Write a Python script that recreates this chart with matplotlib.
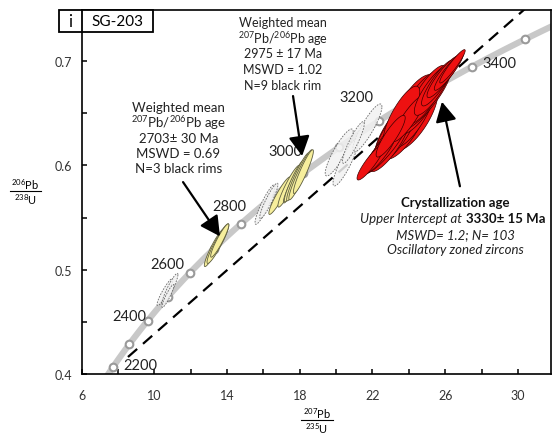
import numpy as np
import matplotlib.pyplot as plt
from matplotlib.patches import Rectangle
from matplotlib.lines import Line2D

plt.rcParams['font.family'] = ['Lato', 'DejaVu Sans']
plt.rcParams['mathtext.fontset'] = 'custom'
plt.rcParams['mathtext.rm'] = 'Lato'
plt.rcParams['mathtext.it'] = 'Lato:italic'
plt.rcParams['mathtext.bf'] = 'Lato:bold'

# decay constants (1/yr)
lam238 = 1.55125e-10
lam235 = 9.8485e-10

curve_ages = np.linspace(2000, 3700, 200)      # Ma
marker_ages = np.arange(2200, 3501, 100)       # Ma
label_ages = [2200, 2400, 2600, 2800, 3000, 3200, 3400]
label_x = [8.28, 7.68, 9.76, 13.17, 16.25, 20.2, 28.03]
label_y = [0.4087, 0.456, 0.505, 0.5606, 0.6135, 0.666, 0.698]

# discordia (upper intercept 3330 Ma)
disc_x = [8.55, 30.55]
disc_y = [0.4163, 0.7525]

# error ellipses: x, y, half-extent x, half-extent y, rho
grey_x   = [10.59, 10.86, 10.75, 16.09, 16.30, 20.17, 20.52, 21.72, 20.95]
grey_y   = [0.4786, 0.4815, 0.4748, 0.5625, 0.566, 0.6124, 0.6028, 0.6359, 0.622]
grey_hx  = [0.44, 0.44, 0.33, 0.55, 0.50, 0.77, 0.69, 0.80, 0.60]
grey_hy  = [0.013, 0.015, 0.011, 0.019, 0.017, 0.0225, 0.0225, 0.023, 0.020]
grey_rho = [0.92, 0.92, 0.92, 0.91, 0.92, 0.88, 0.88, 0.88, 0.9]

yel_x   = [13.30, 13.50, 13.60, 16.90, 17.40, 17.60, 17.70, 17.90, 18.05, 18.20]
yel_y   = [0.521, 0.525, 0.528, 0.571, 0.580, 0.581, 0.585, 0.589, 0.591, 0.594]
yel_hx  = [0.55, 0.60, 0.50, 0.60, 0.60, 0.50, 0.55, 0.62, 0.65, 0.55]
yel_hy  = [0.018, 0.019, 0.016, 0.018, 0.020, 0.017, 0.020, 0.023, 0.024, 0.021]
yel_rho = [0.93, 0.93, 0.93, 0.93, 0.93, 0.93, 0.93, 0.94, 0.94, 0.93]

red_x   = [24.3, 23.3, 23.8, 24.2, 23.3, 24.6, 24.9, 22.9, 25.0, 22.7, 23.6, 22.4,
           24.0, 25.3, 21.9, 23.0, 25.6, 25.9, 26.2, 26.4]
red_y   = [0.646, 0.632, 0.640, 0.652, 0.632, 0.660, 0.664, 0.620, 0.668, 0.617,
           0.648, 0.612, 0.645, 0.672, 0.603, 0.628, 0.679, 0.685, 0.690, 0.695]
red_hx  = [1.3, 1.2, 1.3, 1.3, 1.2, 1.2, 1.4, 1.1, 1.1, 1.2, 1.0, 0.9,
           0.9, 1.0, 0.75, 0.8, 0.9, 0.9, 0.8, 0.7]
red_hy  = [0.032, 0.030, 0.034, 0.035, 0.030, 0.030, 0.030, 0.026, 0.028, 0.025,
           0.028, 0.020, 0.022, 0.024, 0.017, 0.020, 0.022, 0.020, 0.018, 0.016]
red_rho = [0.72, 0.75, 0.74, 0.72, 0.78, 0.78, 0.86, 0.82, 0.82, 0.9, 0.8, 0.88,
           0.88, 0.84, 0.9, 0.88, 0.88, 0.9, 0.92, 0.94]


def conc(t_ma):
    t = np.asarray(t_ma) * 1e6
    return np.exp(lam235 * t) - 1, np.exp(lam238 * t) - 1


def ellipse(cx, cy, hx, hy, rho, n=120):
    t = np.linspace(0, 2 * np.pi, n)
    x = cx + hx * np.cos(t)
    y = cy + hy * (rho * np.cos(t) + np.sqrt(1 - rho ** 2) * np.sin(t))
    return x, y


W, H = 555, 435
fig = plt.figure(figsize=(W / 100, H / 100), dpi=100)
ax = fig.add_axes([81.6 / W, 1 - 375 / H, (551 - 81.6) / W, (375 - 11) / H])

cx_, cy_ = conc(curve_ages)
ax.plot(cx_, cy_, color='#c8c8c8', lw=4.5, solid_capstyle='butt', zorder=1)
mx, my = conc(marker_ages)
ax.plot(mx, my, 'o', ms=5.5, mfc='white', mec='#9a9a9a', mew=1.5, zorder=2)

ax.plot(disc_x, disc_y, color='k', lw=1.6, dashes=(5.5, 3.5), zorder=3)

for i in range(len(grey_x)):
    ex, ey = ellipse(grey_x[i], grey_y[i], grey_hx[i], grey_hy[i], grey_rho[i])
    ax.fill(ex, ey, facecolor='#f2f2f2', alpha=0.85, edgecolor='#505050',
            lw=0.6, ls=(0, (2, 1.5)), zorder=4)

for i in range(len(yel_x)):
    ex, ey = ellipse(yel_x[i], yel_y[i], yel_hx[i], yel_hy[i], yel_rho[i])
    ax.fill(ex, ey, facecolor='#f6ee9c', edgecolor='#5e5e40', lw=0.6, zorder=5)

for i in range(len(red_x)):
    ex, ey = ellipse(red_x[i], red_y[i], red_hx[i], red_hy[i], red_rho[i])
    ax.fill(ex, ey, facecolor='#ee1111', edgecolor='#3a0000', lw=0.5, zorder=6)

for a, lx, ly in zip(label_ages, label_x, label_y):
    ax.text(lx, ly, str(a), fontsize=10.5, ha='left', va='center', color='#222222', zorder=7)

arrow = dict(arrowstyle='-|>,head_length=0.6,head_width=0.32', lw=1.6, color='k',
             mutation_scale=20, shrinkA=0, shrinkB=0)
ax.annotate('', xy=(13.61, 0.532), xytext=(11.58, 0.584), arrowprops=arrow, zorder=8)
ax.annotate('', xy=(18.13, 0.609), xytext=(17.63, 0.6665), arrowprops=arrow, zorder=8)
ax.annotate('', xy=(25.82, 0.661), xytext=(26.81, 0.580), arrowprops=arrow, zorder=8)

ax.set_xlim(6, 31.82)
ax.set_ylim(0.4, 0.749)
ax.set_xticks(np.arange(6, 31, 4))
ax.set_xticks(np.arange(8, 31, 4), minor=True)
ax.set_yticks([0.4, 0.5, 0.6, 0.7])
ax.set_yticks([0.45, 0.55, 0.65], minor=True)
ax.set_yticklabels(['0.4', '0.5', '0.6', '0.7'])
ax.tick_params(which='both', direction='in', length=3.5, width=1.1, labelsize=9,
               labelcolor='#333333')
ax.tick_params(axis='y', pad=7)
ax.tick_params(axis='x', pad=11)
for s in ax.spines.values():
    s.set_linewidth(1.2)


def ftext(x, y, s, **kw):
    fig.text(x / W, 1 - y / H, s, **kw)


# panel label box
fig.patches.append(Rectangle((59 / W, 1 - 33 / H), 94 / W, 22 / H, transform=fig.transFigure,
                             facecolor='white', edgecolor='k', lw=1.3, zorder=10))
fig.lines.append(Line2D([81.6 / W, 81.6 / W], [1 - 33 / H, 1 - 11 / H],
                        transform=fig.transFigure, color='k', lw=1.3, zorder=11))
ftext(70, 22, 'i', fontsize=12, ha='center', va='center', zorder=12)
ftext(117, 21.5, 'SG-203', fontsize=11, ha='center', va='center', zorder=12)

# axis labels as fractions
ftext(25.5, 185, r'$^{206}$Pb', fontsize=8, ha='center', va='center')
fig.lines.append(Line2D([10 / W, 41 / W], [1 - 192 / H] * 2, transform=fig.transFigure,
                        color='k', lw=0.8))
ftext(25.5, 200, r'$^{238}$U', fontsize=8, ha='center', va='center')
ftext(317, 414, r'$^{207}$Pb', fontsize=8, ha='center', va='center')
fig.lines.append(Line2D([301 / W, 333 / W], [1 - 421 / H] * 2, transform=fig.transFigure,
                        color='k', lw=0.8))
ftext(317, 429, r'$^{235}$U', fontsize=8, ha='center', va='center')

# annotation blocks
block1 = ['Weighted mean', r'$^{207}$Pb/$^{206}$Pb age', '2703\u00b1 30 Ma',
          'MSWD = 0.69', 'N=3 black rims']
for s, yy in zip(block1, [108, 123, 139, 154, 169]):
    ftext(178.5, yy, s, fontsize=9.5, ha='center', va='center', color='#222222')

block2 = ['Weighted mean', r'$^{207}$Pb/$^{206}$Pb age', '2975 \u00b1 17 Ma',
          'MSWD = 1.02', 'N=9 black rim']
for s, yy in zip(block2, [23, 39, 54, 70, 86]):
    ftext(283, yy, s, fontsize=9, ha='center', va='center', color='#222222')

ftext(455, 203, 'Crystallization age', fontsize=9.5, fontweight='bold', ha='center',
      va='center', color='#111111')
ftext(465, 219, 'Upper Intercept at ', fontsize=9.5, style='italic', ha='right',
      va='center', color='#222222')
ftext(466, 219, '3330\u00b1 15 Ma', fontsize=9.5, fontweight='bold', ha='left',
      va='center', color='#111111')
ftext(455, 235, 'MSWD= 1.2; N= 103', fontsize=9.5, style='italic', ha='center',
      va='center', color='#222222')
ftext(455, 250, 'Oscillatory zoned zircons', fontsize=9.5, style='italic', ha='center',
      va='center', color='#222222')

fig.savefig('out.png', dpi=100)
